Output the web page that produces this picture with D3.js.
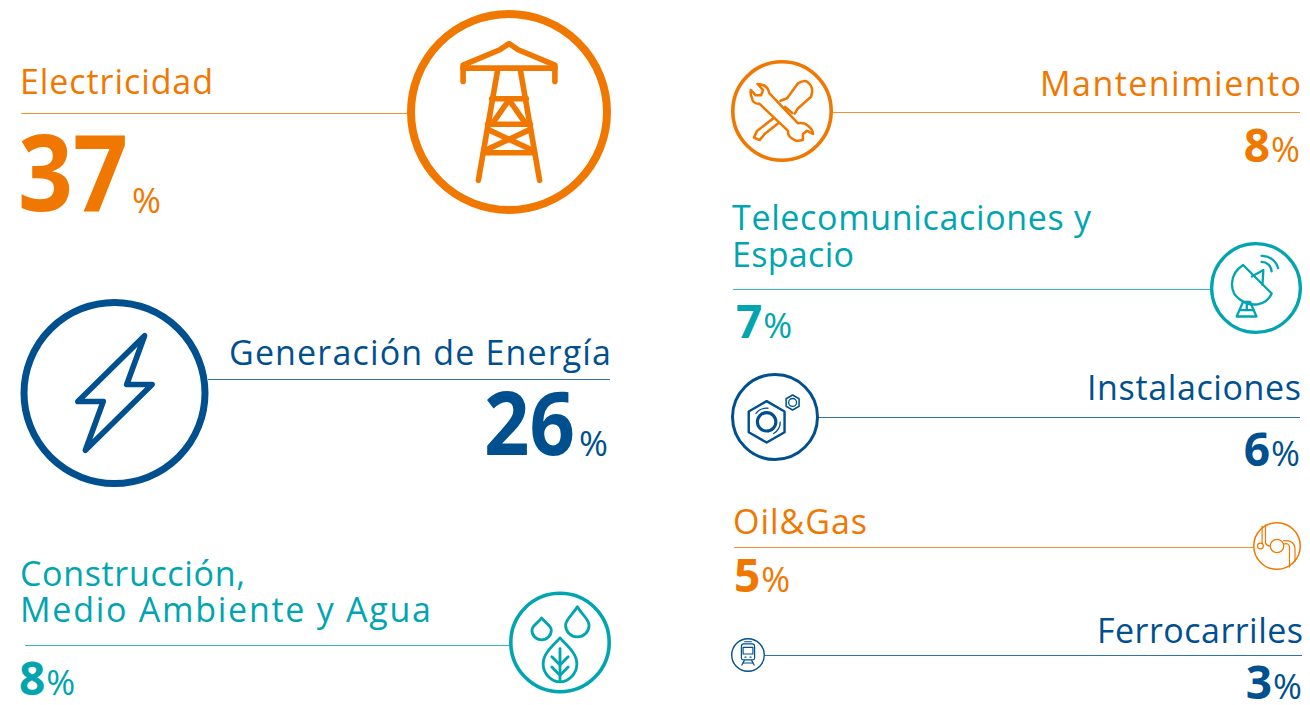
<!DOCTYPE html>
<html>
<head>
<meta charset="utf-8">
<script src="https://cdn.jsdelivr.net/npm/d3@7"></script>
<style>
  html, body { margin: 0; background: #fff; }
  text { font-family: "Open Sans", "Noto Sans", sans-serif; }
</style>
</head>
<body>
<div id="chart"></div>
<script>
// sectors and their share of the total
var sectors = ["Electricidad", "Generación de Energía", "Construcción,\nMedio Ambiente y Agua", "Mantenimiento", "Telecomunicaciones y\nEspacio", "Instalaciones", "Oil&Gas", "Ferrocarriles"];
var shares = [37, 26, 8, 8, 7, 6, 5, 3];
var icons = ["tower", "bolt", "drops", "tools", "dish", "nut", "pipe", "train"];

var ORANGE = "#f07800", BLUE = "#00508f", TEAL = "#00a5b0";
var colors = [ORANGE, BLUE, TEAL, ORANGE, TEAL, BLUE, ORANGE, BLUE];

// where each block goes, the picture has no regular grid. len = measured width of each label line
var layout = [
  {x: 20, anchor: "start", base: [94], len: [193], line: [21, 408, 113], icon: [509, 112], numX: 18, numY: 211, pctY: 213, numLen: 110},
  {x: 611, anchor: "end", base: [365], len: [382], line: [208, 610, 379], icon: [114.5, 393], numX: 608, numY: 455, pctY: 456, numLen: 91},
  {x: 20, anchor: "start", base: [586, 622], len: [225, 411], line: [25, 510, 645], icon: [560, 642.5], numX: 19, numY: 695, pctY: 695},
  {x: 1301, anchor: "end", base: [96], len: [261], line: [832, 1300, 112], icon: [782, 111], numX: 1300, numY: 162, pctY: 162},
  {x: 732, anchor: "start", base: [230, 267], len: [359, 122], line: [733, 1211, 289], icon: [1256, 288], numX: 736, numY: 338, pctY: 338},
  {x: 1301, anchor: "end", base: [400], len: [214], line: [818, 1300, 417], icon: [775, 417], numX: 1300, numY: 466, pctY: 466},
  {x: 733, anchor: "start", base: [534], len: [134], line: [734, 1253, 547], icon: [1277, 546], numX: 734, numY: 592, pctY: 592},
  {x: 1303, anchor: "end", base: [643], len: [206], line: [765, 1302, 655], icon: [748, 655], numX: 1302, numY: 699, pctY: 699}
];

var width = 1310, height = 705;

// circle and number sizes follow the share
var iconR = d3.scaleLinear().domain([3, 5, 6, 7, 8, 26, 37]).range([17, 24, 44, 46, 51, 94, 102]);
var ringW = d3.scaleLinear().domain([3, 5, 6, 8, 26, 37]).range([1.4, 1.5, 3, 3.6, 7, 8]);
var numSize = d3.scaleLinear().domain([3, 8, 26, 37]).range([46, 46, 88, 106]);

var svg = d3.select("#chart").append("svg")
  .attr("width", width)
  .attr("height", height);

function hex(r){
  var pts = d3.range(6).map(function(i){
    return [i * Math.PI / 3, r];
  });
  return d3.lineRadial().curve(d3.curveLinearClosed)(pts);
}

function ring(r, a0, a1){
  return d3.arc()({innerRadius: r, outerRadius: r, startAngle: a0 || 0, endAngle: a1 || 2 * Math.PI});
}

function drop(cx, tip, r, cy){
  return "M" + cx + "," + tip +
    "C" + (cx + r * 0.35) + "," + (tip + (cy - tip) * 0.4) + " " + (cx + r) + "," + (cy - r * 0.5) + " " + (cx + r) + "," + cy +
    "A" + r + "," + r + " 0 1 1 " + (cx - r) + "," + cy +
    "C" + (cx - r) + "," + (cy - r * 0.5) + " " + (cx - r * 0.35) + "," + (tip + (cy - tip) * 0.4) + " " + cx + "," + tip + "Z";
}

// pictograms, drawn for a ring of radius 100
var glyphs = {
  tower: {w: 5.5, paths: [
    "M-45,-30L-45,-46L-9,-61L0,-67L9,-61L45,-46L45,-30",
    "M-45,-43L45,-43",
    "M-11,-42L-30,67", "M11,-42L30,67",
    "M-17,-13L17,-13", "M-21,12L21,12", "M-25,40L25,40",
    "M-16,11L0,-12L16,11",
    "M-21,17L20,36", "M21,17L-20,36"
  ]},
  bolt: {w: 6, paths: ["M32,-61L13,-9L40,-9L-31,61L-12,9L-39,9Z"]},
  tools: {w: 5, paths: [
    "M-3,-20L10,-25L31,-54Q44,-62 50,-57Q64,-47 57,-28L31,-5L25,5",
    "M-14,12L-49,39L-55,52L-44,57L-34,45L-1,19",
    {d: "M-48,-53Q-28,-52-25,-35L31,24Q44,22 51,29Q60,36 61,45L49,39L41,45L41,57Q30,60 25,57Q10,50 12,39L-44,-14Q-58,-14-59,-26Q-63,-34-61,-41L-52,-31L-41,-31L-37,-41Z", fill: "#fff"},
    "M6,-8L20,4"
  ]},
  dish: {w: 5, paths: [
    "M-28,-50C-60,-30-58,10-35,25C-12,42 22,40 34,12Z",
    "M-9,-25L16,-39L14,-7",
    "M12,-57A22,22 0 0 1 34,-36",
    "M12,-70A36,36 0 0 1 48,-43",
    "M-42,62L1,62L-13,30L-28,30Z",
    "M-33,48L-6,48", "M-20,30L-20,48"
  ]},
  nut: {w: 5.5, paths: [
    {d: hex(47), at: [-19, 11]},
    {d: hex(17), at: [40, -33], w: 3.5},
    {d: ring(31, -0.9, 0.1), at: [-19, 11], w: 3},
    {d: ring(31, 1.6, 2.6), at: [-19, 11], w: 3},
    {d: ring(9), at: [40, -33], w: 3},
    {d: ring(21), at: [-19, 11], w: 7}
  ]},
  drops: {w: 5.5, paths: [
    drop(-36, -48, 19, -24),
    drop(34, -70, 23, -34),
    "M0,-9C12,5 33,20 33,42C33,62 16,77 0,77C-16,77-33,62-33,42C-33,20-12,5 0,-9Z",
    "M0,12L0,74",
    "M-16,28L0,44L16,28",
    "M-16,48L0,64L16,48"
  ]},
  pipe: {w: 5, paths: [
    {d: ring(28), at: [0, 0]},
    {d: ring(12), at: [-69, 0]},
    "M-62,-82L-62,-12", "M-48,-88L-48,-12Q-42,0-28,0",
    "M28,-8Q50,-15 52,5L52,88", "M28,-22Q72,-25 75,10L75,65"
  ]},
  train: {w: 7, paths: [
    "M-39,-50Q-39,-65-24,-65L24,-65Q39,-65 39,-50L39,18Q39,29 28,29L-28,29Q-39,29-39,18Z",
    "M-29,-45L29,-45L29,-6L-29,-6Z",
    "M-20,-78L20,-78",
    "M-22,33L-36,59", "M22,33L36,59", "M-30,47L30,47",
    "M-18,13L-12,13", "M12,13L18,13"
  ]}
};

var blocks = svg.selectAll(".sector")
  .data(sectors.map(function(name, i){
    return {name: name, share: shares[i], icon: icons[i], color: colors[i], pos: layout[i]};
  }))
  .enter().append("g")
  .attr("class", "sector");

// rule from the label to the ring
blocks.append("line")
  .attr("x1", function(d){ return d.pos.line[0]; })
  .attr("x2", function(d){ return d.pos.line[1]; })
  .attr("y1", function(d){ return d.pos.line[2] + 0.5; })
  .attr("y2", function(d){ return d.pos.line[2] + 0.5; })
  .attr("stroke", function(d){ return d.color; })
  .attr("stroke-opacity", 0.8)
  .attr("stroke-width", 1);

// label, one text per line
blocks.each(function(d){
  d3.select(this).selectAll(".label")
    .data(d.name.split("\n"))
    .enter().append("text")
    .attr("class", "label")
    .attr("x", d.pos.x)
    .attr("y", function(t, i){ return d.pos.base[i]; })
    .attr("text-anchor", d.pos.anchor)
    .attr("textLength", function(t, i){ return d.pos.len[i]; })
    .attr("lengthAdjust", "spacing")
    .attr("fill", d.color)
    .style("font-size", "34px")
    .text(function(t){ return t; });
});

// big number with the % behind it
var num = blocks.append("text")
  .attr("x", function(d){ return d.pos.numX; })
  .attr("y", function(d){ return d.pos.numY; })
  .attr("text-anchor", function(d){ return d.pos.anchor; })
  .attr("fill", function(d){ return d.color; });

num.append("tspan")
  .attr("textLength", function(d){ return d.pos.numLen || null; })
  .attr("lengthAdjust", "spacingAndGlyphs")
  .style("font-size", function(d){ return numSize(d.share) + "px"; })
  .style("font-weight", 700)
  .text(function(d){ return d.share; });

num.append("tspan")
  .attr("dx", function(d){ return d.share > 20 ? 4 : 1; })
  .attr("dy", function(d){ return d.pos.pctY - d.pos.numY; })
  .style("font-size", "35px")
  .style("font-weight", 500)
  .text("%");

// ring and pictogram
var badge = blocks.append("g")
  .attr("transform", function(d){ return "translate(" + d.pos.icon[0] + "," + d.pos.icon[1] + ")"; });

badge.append("circle")
  .attr("r", function(d){ return iconR(d.share) - ringW(d.share) / 2; })
  .attr("fill", "#fff")
  .attr("stroke", function(d){ return d.color; })
  .attr("stroke-width", function(d){ return ringW(d.share); });

badge.each(function(d){
  var k = iconR(d.share) / 100;
  var glyph = glyphs[d.icon];
  d3.select(this).append("g")
    .attr("transform", "scale(" + k + ")")
    .selectAll("path")
    .data(glyph.paths)
    .enter().append("path")
    .attr("d", function(p){ return p.d || p; })
    .attr("transform", function(p){ return p.at ? "translate(" + p.at[0] + "," + p.at[1] + ")" : null; })
    .attr("fill", function(p){ return p.fill || "none"; })
    .attr("stroke", d.color)
    .attr("stroke-width", function(p){ return p.w || glyph.w; })
    .attr("stroke-linejoin", "round")
    .attr("stroke-linecap", "round");
});
</script>
</body>
</html>
